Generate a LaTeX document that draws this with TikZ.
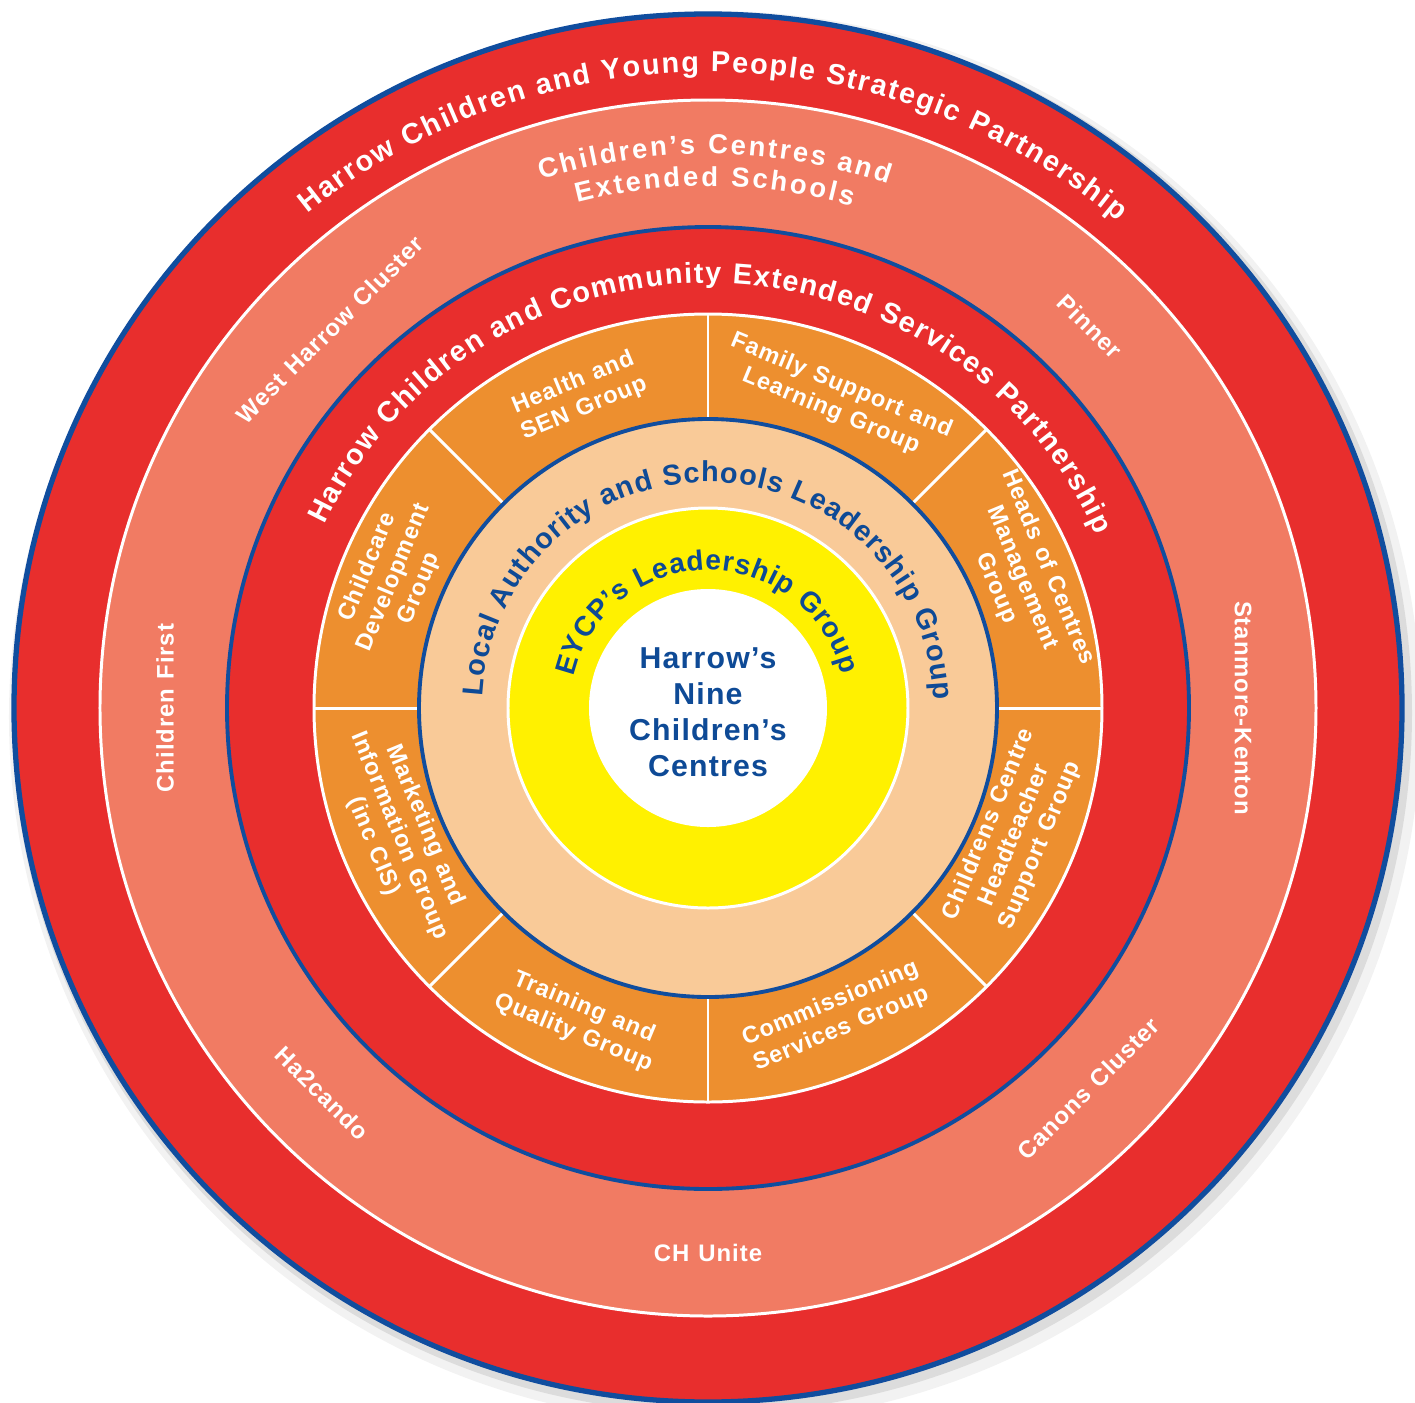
\documentclass[tikz,border=0pt]{standalone}
\usepackage{fontspec}
\setmainfont{Liberation Sans}
\newfontfamily\trackfont[LetterSpace=4]{Liberation Sans}
\usetikzlibrary{decorations.text}

\definecolor{ringred}{RGB}{232,46,45}
\definecolor{ringsalmon}{RGB}{241,123,99}
\definecolor{ringorange}{RGB}{237,143,47}
\definecolor{ringpeach}{RGB}{249,202,152}
\definecolor{ringyellow}{RGB}{255,241,0}
\definecolor{ringblue}{RGB}{16,77,158}
\definecolor{textblue}{RGB}{14,74,150}

\newcommand{\titlefont}{\bfseries\fontsize{8.2}{9.8}\selectfont\color{white}}
\newcommand{\subtitlefont}{\bfseries\fontsize{7.8}{9.2}\selectfont\color{white}}
\newcommand{\bluefont}{\bfseries\fontsize{8.2}{9.8}\selectfont\color{textblue}}
\newcommand{\eycpfont}{\bfseries\fontsize{8}{9.6}\selectfont\color{textblue}}
\newcommand{\widespace}{\spaceskip=0.38em plus 0.1em\relax}
% radius, start angle, end angle, text
\newcommand{\ringtitle}[4]{%
  \path[decorate,decoration={text along path,text align={fit to path},text={#4}}]
    (#2:#1) arc[start angle=#2,end angle=#3,radius=#1];}

\tikzset{
  grouplabel/.style={text=white,align=center,inner sep=0pt,
    font=\trackfont\bfseries\fontsize{6.7}{7.9}\selectfont\widespace},
  clusterlabel/.style={text=white,inner sep=0pt,
    font=\trackfont\bfseries\fontsize{6.8}{8}\selectfont\widespace},
  centretext/.style={text=textblue,align=center,inner sep=0pt,
    font=\trackfont\bfseries\fontsize{8.6}{10.2}\selectfont},
  whiteline/.style={white,line width=0.85pt},
  blueline/.style={ringblue,line width=1.1pt}
}

\begin{document}
\begin{tikzpicture}[x=0.01cm,y=0.01cm]
  % \draw[help lines] (-700,-700) grid[step=100] (700,700);
  \useasboundingbox (-708,-694) rectangle (707,708);
  \coordinate (hub) at (0,0);

  % soft shadow
  \fill[black,opacity=0.05] (7,-9) circle[radius=706];
  \fill[black,opacity=0.09] (4,-5) circle[radius=700];

  % rings, outside in
  \fill[ringred] (hub) circle[radius=695];
  \draw[blueline,line width=1.5pt] (hub) circle[radius=694];
  \fill[ringsalmon] (hub) circle[radius=608];
  \draw[whiteline] (hub) circle[radius=608];
  \fill[ringred] (hub) circle[radius=481];
  \draw[blueline] (hub) circle[radius=481];
  \fill[ringorange] (hub) circle[radius=394];
  \draw[whiteline] (hub) circle[radius=394];
  \foreach \a in {0,45,...,315}
    \draw[whiteline] (\a:289) -- (\a:394);
  \fill[ringpeach] (hub) circle[radius=289];
  \draw[blueline] (hub) circle[radius=289];
  \fill[ringyellow] (hub) circle[radius=200];
  \draw[whiteline] (hub) circle[radius=200];
  \fill[white] (hub) circle[radius=119];

  % curved titles
  \ringtitle{636}{129}{50}{|\titlefont|Harrow Children and Young People Strategic Partnership}
  \ringtitle{554}{107.5}{71}{|\subtitlefont|Children’s Centres and}
  \ringtitle{522}{104.5}{74}{|\subtitlefont|Extended Schools}
  \ringtitle{425}{154.5}{24}{|\titlefont|Harrow Children and Community Extended Services Partnership}
  \ringtitle{226}{177}{2}{|\bluefont|Local Authority and Schools Leadership Group}
  \ringtitle{138}{167}{14}{|\eycpfont|EYCP’s Leadership Group}

  % clusters
  \node[clusterlabel,rotate=45] (westharrow) at (135:535) {West Harrow Cluster};
  \node[clusterlabel,rotate=-45] (pinner) at (45:540) {Pinner};
  \node[clusterlabel,rotate=-90] (stanmore) at (0:535) {Stanmore-Kenton};
  \node[clusterlabel,rotate=45] (canons) at (-45:538) {Canons Cluster};
  \node[clusterlabel] (chunite) at (-90:545) {CH Unite};
  \node[clusterlabel,rotate=-45] (ha2cando) at (-135:545) {Ha2cando};
  \node[clusterlabel,rotate=90] (childrenfirst) at (180:543) {Children First};

  % groups
  \node[grouplabel,rotate=22.5] (health) at (112.5:338) {Health and\\SEN Group};
  \node[grouplabel,rotate=-22.5] (family) at (67.5:335) {Family Support and\\Learning Group};
  \node[grouplabel,rotate=-67.5] (heads) at (22.5:340) {Heads of Centres\\Management\\Group};
  \node[grouplabel,rotate=67.5] (headteacher) at (-22.5:332) {Childrens Centre\\Headteacher\\Support Group};
  \node[grouplabel,rotate=22.5] (commissioning) at (-67.5:334) {Commissioning\\Services Group};
  \node[grouplabel,rotate=-22.5] (training) at (-112.5:338) {Training and\\Quality Group};
  \node[grouplabel,rotate=-67.5] (marketing) at (-157.5:334) {Marketing and\\Information Group\\(inc CIS)};
  \node[grouplabel,rotate=67.5] (childcare) at (157.5:340) {Childcare\\Development\\Group};

  \node[centretext] (centres) at (0,-4) {Harrow’s\\Nine\\Children’s\\Centres};
\end{tikzpicture}
\end{document}
